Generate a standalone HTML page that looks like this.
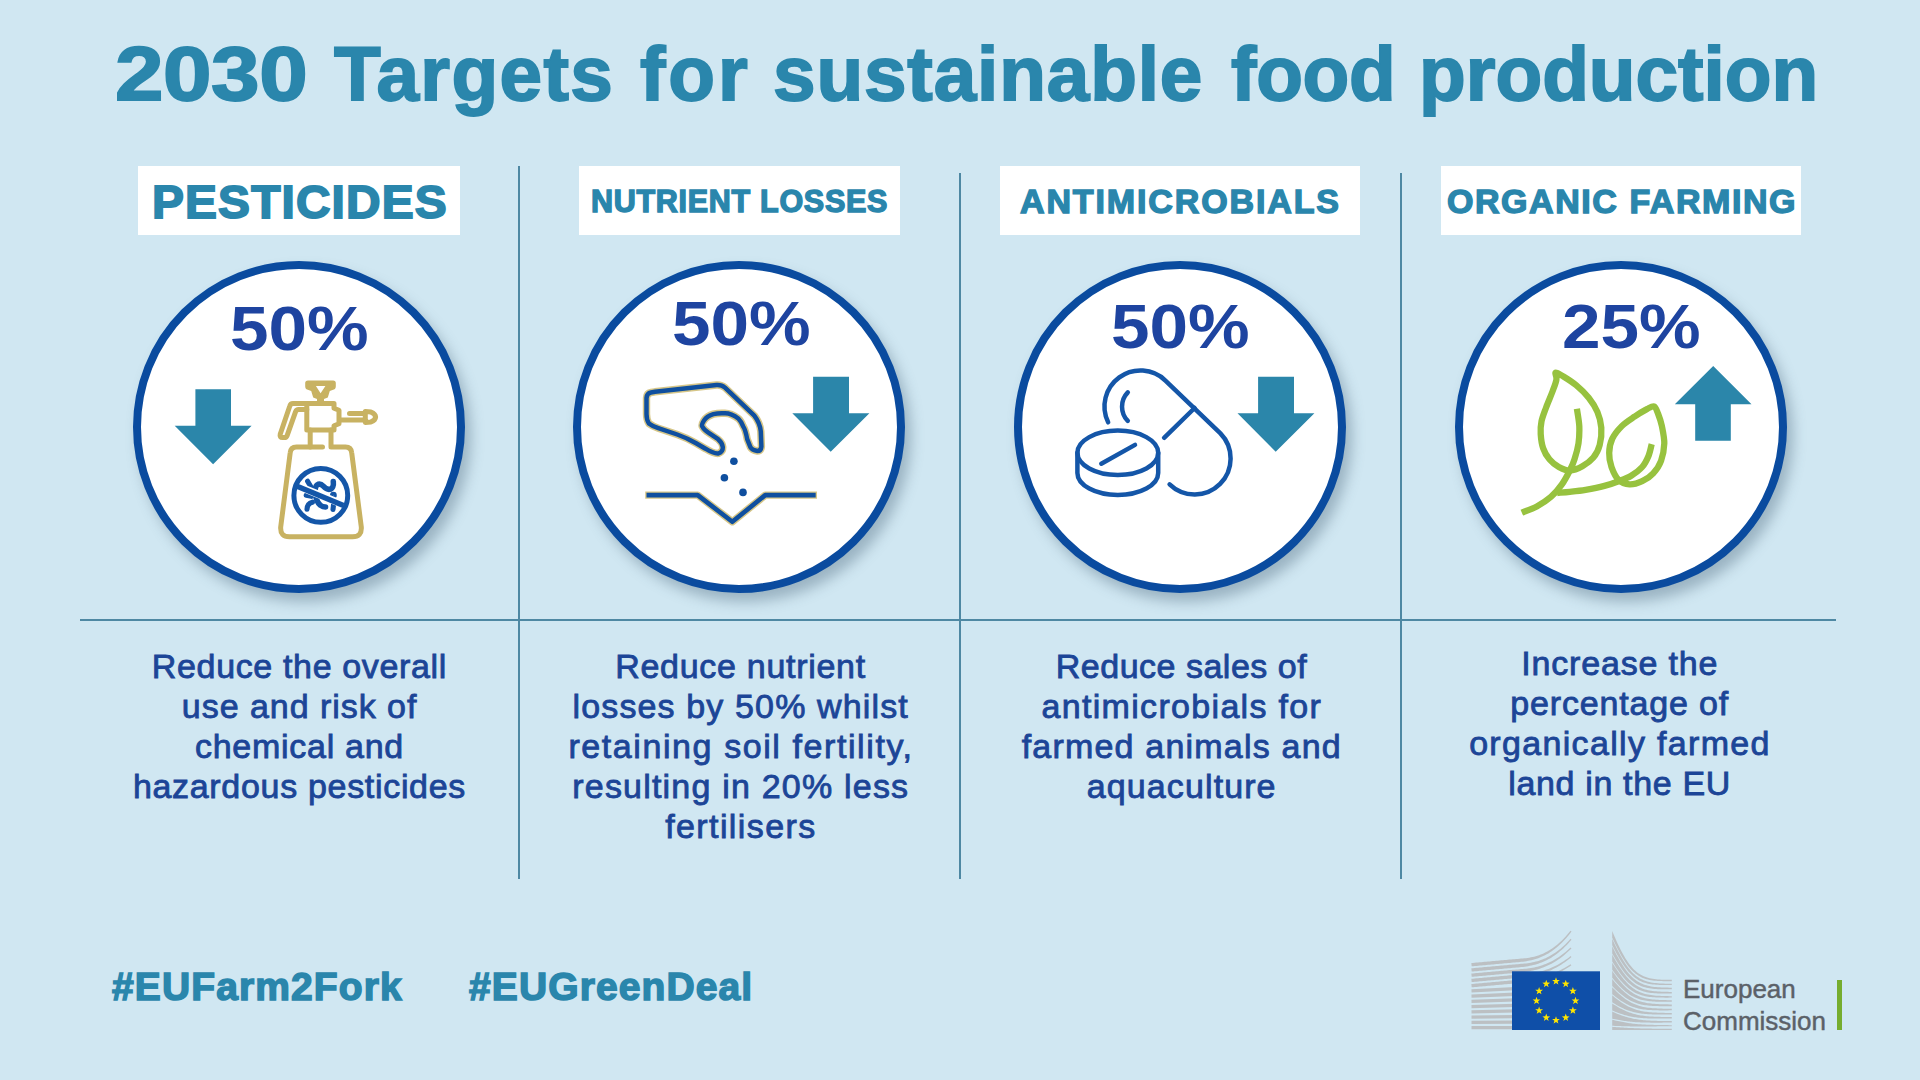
<!DOCTYPE html>
<html><head><meta charset="utf-8">
<style>
*{margin:0;padding:0;box-sizing:border-box}
html,body{width:1920px;height:1080px;overflow:hidden}
body{background:#d0e7f2;font-family:"Liberation Sans",sans-serif;position:relative}
.a{position:absolute;white-space:nowrap}
.lbl{position:absolute;background:#fff;top:166px;height:69px}
.vl{position:absolute;width:2px;background:#4e88a3}
.circ{position:absolute;width:332px;height:332px;border-radius:50%;border:8px solid #0a4b9f;background:#fff;top:261px;box-shadow:6px 9px 13px rgba(60,90,110,.36)}
.pct{position:absolute;font-weight:bold;color:#1e44a0;font-size:63px;line-height:62px;white-space:nowrap;transform:scaleX(1.10);transform-origin:0 0}
.dl{position:absolute;text-align:center;color:#1c4597;font-size:34px;line-height:40px;white-space:nowrap;width:600px;-webkit-text-stroke:0.85px #1c4597}
.ec{position:absolute;color:#5b6168;font-size:26px;line-height:31px;white-space:nowrap;-webkit-text-stroke:0.45px #5b6168}
svg{position:absolute;left:0;top:0}
.fx{position:absolute;white-space:nowrap;line-height:1.2;transform-origin:0 0}
</style></head><body>

<div class="lbl" style="left:138px;width:322px"></div>
<div class="lbl" style="left:579px;width:321px"></div>
<div class="lbl" style="left:1000px;width:360px"></div>
<div class="lbl" style="left:1441px;width:360px"></div>
<div class="fx" style="left:115.00px;top:27.80px;font-size:76.5px;font-weight:bold;color:#2a86ac;-webkit-text-stroke:1.8px #2a86ac;letter-spacing:-0.398px;transform:scaleX(1.14)">2030</div>
<div class="fx" style="left:334.00px;top:27.80px;font-size:76.5px;font-weight:bold;color:#2a86ac;-webkit-text-stroke:1.8px #2a86ac;letter-spacing:1.367px;transform:scaleX(1.0)">Targets</div>
<div class="fx" style="left:640.00px;top:27.80px;font-size:76.5px;font-weight:bold;color:#2a86ac;-webkit-text-stroke:1.8px #2a86ac;letter-spacing:2.850px;transform:scaleX(1.0)">for</div>
<div class="fx" style="left:773.00px;top:27.80px;font-size:76.5px;font-weight:bold;color:#2a86ac;-webkit-text-stroke:1.8px #2a86ac;letter-spacing:0.850px;transform:scaleX(1.0)">sustainable</div>
<div class="fx" style="left:1231.00px;top:27.80px;font-size:76.5px;font-weight:bold;color:#2a86ac;-webkit-text-stroke:1.8px #2a86ac;letter-spacing:-0.333px;transform:scaleX(1.0)">food</div>
<div class="fx" style="left:1419.00px;top:27.80px;font-size:76.5px;font-weight:bold;color:#2a86ac;-webkit-text-stroke:1.8px #2a86ac;letter-spacing:-0.022px;transform:scaleX(1.0)">production</div>
<div class="fx" style="left:152.00px;top:175.30px;font-size:46px;font-weight:bold;color:#2a86ac;-webkit-text-stroke:1.8px #2a86ac;letter-spacing:1.094px;transform:scaleX(1.04)">PESTICIDES</div>
<div class="fx" style="left:591.00px;top:182.70px;font-size:30.5px;font-weight:bold;color:#2a86ac;-webkit-text-stroke:1.4px #2a86ac;letter-spacing:0.714px;transform:scaleX(1.0)">NUTRIENT LOSSES</div>
<div class="fx" style="left:1020.00px;top:180.50px;font-size:34px;font-weight:bold;color:#2a86ac;-webkit-text-stroke:1.4px #2a86ac;letter-spacing:1.869px;transform:scaleX(1.0)">ANTIMICROBIALS</div>
<div class="fx" style="left:1447.00px;top:180.50px;font-size:34px;font-weight:bold;color:#2a86ac;-webkit-text-stroke:1.4px #2a86ac;letter-spacing:1.550px;transform:scaleX(1.0)">ORGANIC FARMING</div>
<div class="fx" style="left:112.00px;top:964.20px;font-size:39px;font-weight:bold;color:#2a86ac;-webkit-text-stroke:1.5px #2a86ac;letter-spacing:1.109px;transform:scaleX(1.0)">#EUFarm2Fork</div>
<div class="fx" style="left:469.00px;top:964.20px;font-size:39px;font-weight:bold;color:#2a86ac;-webkit-text-stroke:1.5px #2a86ac;letter-spacing:1.109px;transform:scaleX(1.0)">#EUGreenDeal</div>

<div class="vl" style="left:518px;top:166px;height:713px"></div>
<div class="vl" style="left:959px;top:173px;height:706px"></div>
<div class="vl" style="left:1400px;top:173px;height:706px"></div>
<div class="vl" style="left:80px;top:619px;width:1756px;height:2px"></div>

<div class="circ" style="left:133px"></div>
<div class="circ" style="left:573px"></div>
<div class="circ" style="left:1014px"></div>
<div class="circ" style="left:1455px"></div>

<div class="pct" style="left:230px;top:297.2px">50%</div>
<div class="pct" style="left:672.4px;top:292.2px">50%</div>
<div class="pct" style="left:1111.2px;top:294.9px">50%</div>
<div class="pct" style="left:1561.6px;top:294.5px">25%</div>

<div class="dl" style="left:-0.9px;top:646.45px;letter-spacing:0.647px;padding-left:0.647px">Reduce the overall</div>
<div class="dl" style="left:-0.9px;top:686.45px;letter-spacing:0.964px;padding-left:0.964px">use and risk of</div>
<div class="dl" style="left:-0.9px;top:726.45px;letter-spacing:0.727px;padding-left:0.727px">chemical and</div>
<div class="dl" style="left:-0.9px;top:766.45px;letter-spacing:0.684px;padding-left:0.684px">hazardous pesticides</div>
<div class="dl" style="left:440.2px;top:646.45px;letter-spacing:0.714px;padding-left:0.714px">Reduce nutrient</div>
<div class="dl" style="left:440.2px;top:686.45px;letter-spacing:1.132px;padding-left:1.132px">losses by 50% whilst</div>
<div class="dl" style="left:440.2px;top:726.45px;letter-spacing:1.583px;padding-left:1.583px">retaining soil fertility,</div>
<div class="dl" style="left:440.2px;top:766.45px;letter-spacing:1.200px;padding-left:1.200px">resulting in 20% less</div>
<div class="dl" style="left:440.2px;top:806.45px;letter-spacing:1.400px;padding-left:1.400px">fertilisers</div>
<div class="dl" style="left:881.2px;top:646.45px;letter-spacing:0.500px;padding-left:0.500px">Reduce sales of</div>
<div class="dl" style="left:881.2px;top:686.45px;letter-spacing:1.324px;padding-left:1.324px">antimicrobials for</div>
<div class="dl" style="left:881.2px;top:726.45px;letter-spacing:1.206px;padding-left:1.206px">farmed animals and</div>
<div class="dl" style="left:881.2px;top:766.45px;letter-spacing:1.100px;padding-left:1.100px">aquaculture</div>
<div class="dl" style="left:1319.3px;top:643.05px;letter-spacing:0.818px;padding-left:0.818px">Increase the</div>
<div class="dl" style="left:1319.3px;top:683.05px;letter-spacing:0.833px;padding-left:0.833px">percentage of</div>
<div class="dl" style="left:1319.3px;top:723.05px;letter-spacing:1.324px;padding-left:1.324px">organically farmed</div>
<div class="dl" style="left:1319.3px;top:763.05px;letter-spacing:0.654px;padding-left:0.654px">land in the EU</div>


<div class="ec" style="left:1683px;top:974px">European</div>
<div class="ec" style="left:1683px;top:1006px">Commission</div>
<div class="a" style="left:1837px;top:980px;width:5px;height:50px;background:#76ad2f"></div>

<svg width="1920" height="1080" viewBox="0 0 1920 1080">
<g fill="#2b86aa">
<path d="M195.4,389.3H231V425.8H251.6L213.1,464.3L174.7,425.8H195.4Z"/>
<path d="M813.1,376.7H849V413.2H869.4L830.7,451.7L792.3,413.2H813.1Z"/>
<path d="M1258.1,376.7H1294V413.2H1314.4L1275.7,451.7L1237.5,413.2H1258.1Z"/>
<path d="M1713.2,365.9L1751.5,404.2H1730.8V440.7H1695.2V404.2H1674.8Z"/>
</g>
<path fill="#c8b262" fill-rule="evenodd" d="M308,380.5H333.2Q335.8,380.5 335.8,383V386.5Q335.8,389.5 332.5,390L329.8,391L327.8,397.5L324,399V403H317V399L313.2,397.5L311.2,391L308.5,390Q305.2,389.5 305.2,386.5V383Q305.2,380.5 308,380.5ZM315.9,386H325.4L320.6,393.2Z"/>
<g fill="none" stroke="#c8b262" stroke-width="5" stroke-linejoin="round" stroke-linecap="round">
<path d="M306.8,403.5H334V408.3L339,410.3V423.8L334,425.8V430H306.8Z"/>
<path d="M306.8,403.5H293Q290.5,403.5 289.8,406L280.2,434.3Q279.4,437.6 282.6,437.6H284.3Q286.4,437.6 287.1,435.6L295.6,411.6Q296.4,409.6 298.6,409.6H306.8"/>
<path d="M349.5,413.6H364M340,419.9H364"/>
<path d="M365.3,411.6L371,412.1Q375.4,413.8 375.6,417Q375.4,420.2 371,421.9L365.3,422.4Z"/>
<path d="M310.2,430V447"/>
<path d="M322.5,447H296.5Q290.7,447 290.2,452.8L280.7,527Q280,536.8 289.5,536.8H352.5Q362,536.8 361.3,527L351.7,452.8Q351.2,447 345.5,447H331V430"/>
</g>
<g fill="none" stroke="#1456a8" stroke-linecap="round" stroke-linejoin="round">
<circle cx="320.8" cy="495.4" r="26.9" stroke-width="5"/>
<path d="M333.3,481.6C333.8,485.5 332.5,488.8 329.6,489.3C327,489.7 325,488 323.3,486.2C321.2,484 318.8,483.8 317,485C315.2,486.4 315,489.5 315.4,493.5C315.9,498.5 317.2,502.6 320.2,505.2C321.8,506.5 323.6,507 325.5,507" stroke-width="5.6"/>
<path d="M307.6,481.2L311,487M306.2,495.3L311.5,496.3M307,509.3Q307.2,503.5 312.4,502.2M333.6,504.2L333,509.5" stroke-width="5.1"/>
<circle cx="333.4" cy="495.2" r="1.8" stroke-width="3.2"/>
<path d="M300.9,487.3L340.7,503.5" stroke="#fff" stroke-width="7.6" stroke-linecap="butt"/>
<path d="M296.5,486L343.5,505.5" stroke-width="5.2" stroke-linecap="butt"/>
</g>
<g fill="none" stroke-linejoin="round">
<path d="M655,391.8L716.5,385Q721.5,384.6 725,387.6L754.3,415.6Q760,423 760.8,431.4L761.4,446.5Q761,451 757.5,451Q752,450 750.4,447.1L747.2,439.2Q745.5,430 743.3,426.6Q741,421 738.6,418.8Q731,413 724.4,413.3Q718,413 713.4,414.1Q707,416 704,420.4Q701,425 702.4,426.6Q704,430 708.7,432.9L718.1,439.2Q722.5,443 722.8,447.1Q723,452 718.5,453.4Q714,454 705.5,448.7L696.1,443.2Q687,438 677.2,434.5L658.3,428.2Q652,426 648.9,423.5Q646.5,420 646.5,414.1L646.5,398Q646.8,393.2 651,392.5Z" stroke="#d6c688" stroke-width="7.4" stroke-linecap="round"/>
<path d="M645.2,495.1H697.7L732.3,521.8L765.3,495.1H817" stroke="#d6c688" stroke-width="7.4" stroke-linecap="butt" />
<path d="M655,391.8L716.5,385Q721.5,384.6 725,387.6L754.3,415.6Q760,423 760.8,431.4L761.4,446.5Q761,451 757.5,451Q752,450 750.4,447.1L747.2,439.2Q745.5,430 743.3,426.6Q741,421 738.6,418.8Q731,413 724.4,413.3Q718,413 713.4,414.1Q707,416 704,420.4Q701,425 702.4,426.6Q704,430 708.7,432.9L718.1,439.2Q722.5,443 722.8,447.1Q723,452 718.5,453.4Q714,454 705.5,448.7L696.1,443.2Q687,438 677.2,434.5L658.3,428.2Q652,426 648.9,423.5Q646.5,420 646.5,414.1L646.5,398Q646.8,393.2 651,392.5Z" stroke="#0f4f9f" stroke-width="4.5" stroke-linecap="round"/>
<path d="M646.5,495.1H697.7L732.3,521.8L765.3,495.1H815.7" stroke="#0f4f9f" stroke-width="4.6" stroke-linecap="butt"/>
</g>
<g fill="#0f4f9f">
<circle cx="733.9" cy="461.3" r="3.8"/><circle cx="724.4" cy="477.8" r="3.8"/><circle cx="743" cy="492.4" r="3.8"/>
</g>
<g fill="none" stroke="#1456a8" stroke-width="4.5" stroke-linecap="round" stroke-linejoin="round">
<path d="M1108.14,422.28A36,36 0 0 1 1165.43,380.53L1220.43,433.33A36,36 0 0 1 1169.60,484.31"/>
<path d="M1194.6,408L1164.1,437.8"/>
<path d="M1127.8,392.4A20.5,20.5 0 0 0 1127.8,420.9"/>
<ellipse cx="1117.8" cy="452.8" rx="40.4" ry="22.2"/>
<path d="M1077.4,452.8V473A40.4,22 0 0 0 1158.2,473V452.8"/>
<path d="M1101.3,463.7L1135,444.9"/>
</g>
<g fill="none" stroke="#97c23f" stroke-width="6.3" stroke-linejoin="round">
<path d="M1555.6,372.6C1554.5,373.1 1557.0,376.5 1556.4,379.7C1555.9,382.8 1554.2,386.9 1552.5,391.5C1550.8,396.1 1548.0,402.2 1546.2,407.2C1544.4,412.2 1542.4,416.9 1541.5,421.4C1540.6,425.8 1540.4,429.5 1540.7,434.0C1541.0,438.4 1541.6,443.9 1543.1,448.1C1544.5,452.3 1546.7,456.0 1549.4,459.2C1552.0,462.3 1555.4,465.1 1558.8,467.0C1562.2,468.9 1565.9,470.6 1569.8,470.5C1573.7,470.4 1578.5,468.4 1582.4,466.2C1586.3,464.1 1590.5,461.1 1593.4,457.6C1596.3,454.1 1598.4,450.0 1599.7,445.0C1601.0,440.0 1601.7,433.2 1601.3,427.7C1600.9,422.2 1599.5,416.9 1597.4,411.9C1595.3,407.0 1592.2,402.2 1588.7,397.8C1585.2,393.3 1580.3,388.7 1576.1,385.2C1571.9,381.6 1566.9,378.6 1563.5,376.5C1560.1,374.4 1556.8,372.1 1555.6,372.6Z"/>
<path d="M1654.0,406.4C1652.2,405.7 1650.2,407.4 1646.9,409.1C1643.7,410.8 1638.5,413.8 1634.4,416.7C1630.2,419.5 1625.4,422.4 1621.8,426.1C1618.1,429.8 1614.4,434.2 1612.3,438.7C1610.2,443.2 1609.3,448.1 1609.2,452.9C1609.0,457.6 1610.0,462.5 1611.5,467.0C1613.1,471.5 1615.6,477.1 1618.6,479.9C1621.6,482.8 1625.7,484.1 1629.6,484.4C1633.6,484.6 1638.3,483.0 1642.2,481.2C1646.2,479.4 1650.1,476.7 1653.2,473.3C1656.4,469.9 1659.3,465.7 1661.1,460.7C1662.9,455.8 1664.1,449.2 1664.3,443.4C1664.4,437.7 1662.9,431.1 1661.9,426.1C1660.8,421.1 1659.3,416.8 1658.0,413.5C1656.6,410.2 1655.9,407.2 1654.0,406.4Z"/>
<path d="M1576.9,408.8C1577.3,411.7 1579.0,420.3 1579.3,426.1C1579.5,431.9 1579.3,437.9 1578.5,443.4C1577.7,448.9 1576.0,454.7 1574.5,459.2C1573.1,463.7 1571.9,466.3 1569.8,470.5C1567.7,474.7 1565.1,479.9 1561.9,484.4C1558.8,488.8 1555.1,493.3 1550.9,496.9C1546.7,500.6 1541.6,503.8 1536.8,506.4C1531.9,509.0 1524.3,511.6 1521.8,512.7"/>
<path d="M1651.7,444.2C1651.1,446.2 1650.1,452.2 1648.5,456.0C1646.9,459.8 1645.1,463.8 1642.2,467.0C1639.3,470.3 1635.1,473.3 1631.2,475.7C1627.3,478.1 1623.1,479.5 1618.6,481.2C1614.2,482.9 1610.0,484.5 1604.4,485.9C1598.9,487.4 1591.3,488.9 1585.6,489.9C1579.8,490.9 1574.5,491.4 1569.8,491.9C1565.1,492.4 1559.3,492.8 1557.2,493.0"/>
</g>
<path fill="#bcc0c3" d="M1471.65,966.34 L1473.31,966.19 L1474.96,966.04 L1476.62,965.90 L1478.28,965.75 L1479.94,965.60 L1481.60,965.45 L1483.26,965.30 L1484.91,965.15 L1486.57,965.00 L1488.23,964.85 L1489.89,964.70 L1491.55,964.55 L1493.21,964.40 L1494.86,964.25 L1496.52,964.10 L1498.18,963.96 L1499.84,963.81 L1501.50,963.66 L1503.16,963.51 L1504.81,963.36 L1506.47,963.21 L1508.13,963.06 L1509.79,962.91 L1511.45,962.76 L1513.11,962.61 L1514.76,962.46 L1516.42,962.31 L1518.08,962.16 L1519.74,962.02 L1521.40,961.84 L1523.08,961.64 L1524.76,961.41 L1526.44,961.16 L1528.12,960.87 L1529.81,960.54 L1531.50,960.17 L1533.19,959.75 L1534.88,959.28 L1536.56,958.76 L1538.25,958.18 L1539.94,957.55 L1541.62,956.85 L1543.30,956.09 L1544.98,955.26 L1546.66,954.37 L1548.33,953.40 L1550.01,952.37 L1551.68,951.26 L1553.34,950.07 L1555.01,948.81 L1556.67,947.47 L1558.33,946.05 L1559.98,944.54 L1561.64,942.95 L1563.29,941.28 L1564.94,939.51 L1566.58,937.66 L1568.23,935.71 L1569.87,933.67 L1571.51,931.55 L1570.49,930.74 L1568.81,932.82 L1567.14,934.79 L1565.47,936.66 L1563.80,938.44 L1562.13,940.13 L1560.46,941.73 L1558.80,943.24 L1557.14,944.67 L1555.48,946.00 L1553.83,947.26 L1552.17,948.43 L1550.52,949.53 L1548.88,950.54 L1547.23,951.49 L1545.59,952.36 L1543.95,953.16 L1542.31,953.90 L1540.68,954.56 L1539.05,955.17 L1537.42,955.72 L1535.79,956.21 L1534.16,956.65 L1532.53,957.03 L1530.90,957.37 L1529.27,957.67 L1527.64,957.92 L1526.01,958.13 L1524.38,958.32 L1522.74,958.47 L1521.10,958.60 L1519.44,958.73 L1517.79,958.88 L1516.13,959.03 L1514.47,959.18 L1512.81,959.33 L1511.15,959.47 L1509.49,959.62 L1507.84,959.77 L1506.18,959.92 L1504.52,960.07 L1502.86,960.22 L1501.20,960.37 L1499.54,960.52 L1497.89,960.67 L1496.23,960.82 L1494.57,960.97 L1492.91,961.12 L1491.25,961.27 L1489.59,961.41 L1487.94,961.56 L1486.28,961.71 L1484.62,961.86 L1482.96,962.01 L1481.30,962.16 L1479.64,962.31 L1477.99,962.46 L1476.33,962.61 L1474.67,962.76 L1473.01,962.91 L1471.35,963.06Z M1471.65,971.59 L1473.31,971.44 L1474.96,971.29 L1476.62,971.15 L1478.28,971.00 L1479.94,970.85 L1481.60,970.70 L1483.26,970.55 L1484.91,970.40 L1486.57,970.25 L1488.23,970.10 L1489.89,969.95 L1491.55,969.80 L1493.21,969.65 L1494.86,969.50 L1496.52,969.35 L1498.18,969.21 L1499.84,969.06 L1501.50,968.91 L1503.16,968.76 L1504.81,968.61 L1506.47,968.46 L1508.13,968.31 L1509.79,968.16 L1511.45,968.01 L1513.11,967.86 L1514.76,967.71 L1516.42,967.56 L1518.08,967.41 L1519.74,967.27 L1521.40,967.09 L1523.07,966.89 L1524.75,966.67 L1526.43,966.43 L1528.11,966.15 L1529.80,965.84 L1531.48,965.49 L1533.17,965.10 L1534.85,964.66 L1536.53,964.18 L1538.22,963.65 L1539.90,963.07 L1541.58,962.44 L1543.26,961.74 L1544.94,960.99 L1546.62,960.18 L1548.29,959.31 L1549.96,958.38 L1551.63,957.38 L1553.30,956.31 L1554.96,955.18 L1556.63,953.97 L1558.29,952.69 L1559.94,951.34 L1561.60,949.92 L1563.25,948.42 L1564.90,946.84 L1566.55,945.18 L1568.20,943.44 L1569.85,941.62 L1571.49,939.73 L1570.51,938.86 L1568.84,940.71 L1567.17,942.46 L1565.50,944.13 L1563.83,945.71 L1562.16,947.21 L1560.50,948.64 L1558.84,949.98 L1557.18,951.25 L1555.52,952.44 L1553.87,953.56 L1552.22,954.61 L1550.57,955.59 L1548.92,956.50 L1547.28,957.35 L1545.63,958.13 L1543.99,958.85 L1542.35,959.52 L1540.72,960.12 L1539.08,960.67 L1537.45,961.17 L1535.82,961.62 L1534.18,962.02 L1532.55,962.37 L1530.92,962.68 L1529.29,962.96 L1527.65,963.19 L1526.02,963.40 L1524.38,963.57 L1522.74,963.72 L1521.10,963.85 L1519.44,963.98 L1517.79,964.13 L1516.13,964.28 L1514.47,964.43 L1512.81,964.58 L1511.15,964.72 L1509.49,964.87 L1507.84,965.02 L1506.18,965.17 L1504.52,965.32 L1502.86,965.47 L1501.20,965.62 L1499.54,965.77 L1497.89,965.92 L1496.23,966.07 L1494.57,966.22 L1492.91,966.37 L1491.25,966.52 L1489.59,966.66 L1487.94,966.81 L1486.28,966.96 L1484.62,967.11 L1482.96,967.26 L1481.30,967.41 L1479.64,967.56 L1477.99,967.71 L1476.33,967.86 L1474.67,968.01 L1473.01,968.16 L1471.35,968.31Z M1471.65,976.84 L1473.31,976.69 L1474.96,976.54 L1476.62,976.40 L1478.28,976.25 L1479.94,976.10 L1481.60,975.95 L1483.26,975.80 L1484.91,975.65 L1486.57,975.50 L1488.23,975.35 L1489.89,975.20 L1491.55,975.05 L1493.21,974.90 L1494.86,974.75 L1496.52,974.60 L1498.18,974.46 L1499.84,974.31 L1501.50,974.16 L1503.16,974.01 L1504.81,973.86 L1506.47,973.71 L1508.13,973.56 L1509.79,973.41 L1511.45,973.26 L1513.11,973.11 L1514.76,972.96 L1516.42,972.81 L1518.08,972.66 L1519.74,972.52 L1521.40,972.34 L1523.07,972.14 L1524.74,971.93 L1526.42,971.69 L1528.10,971.43 L1529.78,971.14 L1531.46,970.82 L1533.14,970.46 L1534.82,970.07 L1536.50,969.64 L1538.18,969.16 L1539.86,968.64 L1541.54,968.08 L1543.21,967.47 L1544.89,966.81 L1546.56,966.10 L1548.24,965.33 L1549.91,964.52 L1551.58,963.65 L1553.25,962.72 L1554.91,961.73 L1556.57,960.69 L1558.24,959.58 L1559.89,958.41 L1561.55,957.18 L1563.21,955.89 L1564.86,954.53 L1566.51,953.10 L1568.16,951.61 L1569.81,950.04 L1571.45,948.41 L1570.55,947.48 L1568.87,949.05 L1567.20,950.54 L1565.54,951.97 L1563.87,953.32 L1562.21,954.61 L1560.55,955.82 L1558.89,956.98 L1557.23,958.06 L1555.58,959.09 L1553.92,960.05 L1552.27,960.95 L1550.62,961.80 L1548.97,962.59 L1547.33,963.32 L1545.69,964.00 L1544.04,964.62 L1542.40,965.20 L1540.76,965.73 L1539.12,966.21 L1537.49,966.65 L1535.85,967.05 L1534.22,967.41 L1532.58,967.72 L1530.94,968.01 L1529.31,968.26 L1527.67,968.47 L1526.03,968.66 L1524.39,968.83 L1522.75,968.97 L1521.10,969.10 L1519.44,969.23 L1517.79,969.38 L1516.13,969.53 L1514.47,969.68 L1512.81,969.83 L1511.15,969.97 L1509.49,970.12 L1507.84,970.27 L1506.18,970.42 L1504.52,970.57 L1502.86,970.72 L1501.20,970.87 L1499.54,971.02 L1497.89,971.17 L1496.23,971.32 L1494.57,971.47 L1492.91,971.62 L1491.25,971.77 L1489.59,971.91 L1487.94,972.06 L1486.28,972.21 L1484.62,972.36 L1482.96,972.51 L1481.30,972.66 L1479.64,972.81 L1477.99,972.96 L1476.33,973.11 L1474.67,973.26 L1473.01,973.41 L1471.35,973.56Z M1471.65,982.09 L1473.31,981.94 L1474.96,981.79 L1476.62,981.65 L1478.28,981.50 L1479.94,981.35 L1481.60,981.20 L1483.26,981.05 L1484.91,980.90 L1486.57,980.75 L1488.23,980.60 L1489.89,980.45 L1491.55,980.30 L1493.21,980.15 L1494.86,980.00 L1496.52,979.85 L1498.18,979.71 L1499.84,979.56 L1501.50,979.41 L1503.16,979.26 L1504.81,979.11 L1506.47,978.96 L1508.13,978.81 L1509.79,978.66 L1511.45,978.51 L1513.11,978.36 L1514.76,978.21 L1516.42,978.06 L1518.08,977.91 L1519.74,977.77 L1521.40,977.59 L1523.07,977.40 L1524.74,977.19 L1526.41,976.96 L1528.08,976.72 L1529.76,976.45 L1531.43,976.15 L1533.11,975.83 L1534.79,975.47 L1536.46,975.09 L1538.14,974.67 L1539.81,974.21 L1541.49,973.72 L1543.16,973.19 L1544.84,972.62 L1546.51,972.01 L1548.18,971.35 L1549.85,970.65 L1551.52,969.91 L1553.18,969.12 L1554.85,968.29 L1556.51,967.40 L1558.17,966.47 L1559.84,965.48 L1561.49,964.45 L1563.15,963.36 L1564.81,962.22 L1566.46,961.02 L1568.11,959.77 L1569.76,958.46 L1571.41,957.10 L1570.59,956.09 L1568.92,957.39 L1567.25,958.63 L1565.59,959.81 L1563.93,960.93 L1562.27,962.00 L1560.61,963.01 L1558.95,963.97 L1557.29,964.88 L1555.64,965.73 L1553.98,966.54 L1552.33,967.30 L1550.68,968.01 L1549.03,968.67 L1547.39,969.29 L1545.74,969.86 L1544.10,970.40 L1542.45,970.89 L1540.81,971.34 L1539.17,971.76 L1537.53,972.14 L1535.89,972.48 L1534.25,972.80 L1532.61,973.08 L1530.97,973.33 L1529.33,973.55 L1527.68,973.75 L1526.04,973.93 L1524.40,974.09 L1522.75,974.23 L1521.10,974.35 L1519.44,974.48 L1517.79,974.63 L1516.13,974.78 L1514.47,974.93 L1512.81,975.08 L1511.15,975.22 L1509.49,975.37 L1507.84,975.52 L1506.18,975.67 L1504.52,975.82 L1502.86,975.97 L1501.20,976.12 L1499.54,976.27 L1497.89,976.42 L1496.23,976.57 L1494.57,976.72 L1492.91,976.87 L1491.25,977.02 L1489.59,977.16 L1487.94,977.31 L1486.28,977.46 L1484.62,977.61 L1482.96,977.76 L1481.30,977.91 L1479.64,978.06 L1477.99,978.21 L1476.33,978.36 L1474.67,978.51 L1473.01,978.66 L1471.35,978.81Z M1471.65,987.34 L1473.31,987.19 L1474.96,987.04 L1476.62,986.90 L1478.28,986.75 L1479.94,986.60 L1481.60,986.45 L1483.26,986.30 L1484.91,986.15 L1486.57,986.00 L1488.23,985.85 L1489.89,985.70 L1491.55,985.55 L1493.21,985.40 L1494.86,985.25 L1496.52,985.10 L1498.18,984.96 L1499.84,984.81 L1501.50,984.66 L1503.16,984.51 L1504.81,984.36 L1506.47,984.21 L1508.13,984.06 L1509.79,983.91 L1511.45,983.76 L1513.11,983.61 L1514.76,983.46 L1516.42,983.31 L1518.08,983.16 L1519.74,983.02 L1521.40,982.84 L1523.06,982.65 L1524.73,982.45 L1526.40,982.23 L1528.07,982.00 L1529.74,981.74 L1531.41,981.47 L1533.09,981.17 L1534.76,980.85 L1536.43,980.51 L1538.10,980.13 L1539.77,979.73 L1541.45,979.30 L1543.12,978.84 L1544.79,978.35 L1546.46,977.82 L1548.13,977.26 L1549.79,976.66 L1551.46,976.03 L1553.13,975.36 L1554.79,974.65 L1556.45,973.90 L1558.12,973.11 L1559.78,972.29 L1561.44,971.42 L1563.09,970.51 L1564.75,969.55 L1566.41,968.55 L1568.06,967.51 L1569.71,966.42 L1571.36,965.29 L1570.64,964.20 L1568.97,965.27 L1567.31,966.29 L1565.64,967.27 L1563.98,968.19 L1562.32,969.08 L1560.66,969.91 L1559.01,970.71 L1557.35,971.46 L1555.70,972.18 L1554.04,972.85 L1552.39,973.48 L1550.74,974.08 L1549.09,974.63 L1547.44,975.16 L1545.79,975.64 L1544.15,976.09 L1542.50,976.51 L1540.85,976.90 L1539.21,977.26 L1537.56,977.59 L1535.92,977.89 L1534.28,978.17 L1532.63,978.42 L1530.99,978.64 L1529.34,978.85 L1527.70,979.03 L1526.05,979.19 L1524.40,979.34 L1522.75,979.48 L1521.10,979.60 L1519.44,979.73 L1517.79,979.88 L1516.13,980.03 L1514.47,980.18 L1512.81,980.33 L1511.15,980.47 L1509.49,980.62 L1507.84,980.77 L1506.18,980.92 L1504.52,981.07 L1502.86,981.22 L1501.20,981.37 L1499.54,981.52 L1497.89,981.67 L1496.23,981.82 L1494.57,981.97 L1492.91,982.12 L1491.25,982.27 L1489.59,982.41 L1487.94,982.56 L1486.28,982.71 L1484.62,982.86 L1482.96,983.01 L1481.30,983.16 L1479.64,983.31 L1477.99,983.46 L1476.33,983.61 L1474.67,983.76 L1473.01,983.91 L1471.35,984.06Z M1471.59,992.60 L1515.09,990.31 L1514.91,987.02 L1471.41,989.30Z M1471.57,997.85 L1515.07,995.89 L1514.93,992.59 L1471.43,994.55Z M1471.56,1003.10 L1515.06,1001.47 L1514.94,998.17 L1471.44,999.80Z M1471.55,1008.35 L1515.05,1007.04 L1514.95,1003.75 L1471.45,1005.05Z M1471.54,1013.60 L1515.04,1012.62 L1514.96,1009.32 L1471.46,1010.30Z M1471.52,1018.85 L1515.02,1018.20 L1514.98,1014.90 L1471.48,1015.55Z M1471.51,1024.10 L1515.01,1023.77 L1514.99,1020.47 L1471.49,1020.80Z M1471.50,1029.35 L1515.00,1029.35 L1515.00,1026.05 L1471.50,1026.05Z M1612.20,931.10 L1613.66,934.56 L1615.08,937.85 L1616.48,940.97 L1617.84,943.94 L1619.19,946.76 L1620.51,949.42 L1621.81,951.93 L1623.09,954.30 L1624.36,956.54 L1625.62,958.64 L1626.87,960.61 L1628.11,962.45 L1629.36,964.17 L1630.60,965.78 L1631.84,967.27 L1633.09,968.65 L1634.35,969.93 L1635.62,971.10 L1636.90,972.18 L1638.20,973.16 L1639.52,974.06 L1640.86,974.87 L1642.22,975.61 L1643.61,976.26 L1645.03,976.85 L1646.49,977.36 L1647.97,977.82 L1649.50,978.21 L1651.07,978.55 L1652.68,978.83 L1654.34,979.07 L1656.05,979.27 L1657.81,979.43 L1659.62,979.55 L1661.49,979.64 L1663.42,979.71 L1665.41,979.76 L1667.47,979.78 L1669.60,979.80 L1671.80,979.80 L1671.80,981.15 L1669.60,981.17 L1667.47,981.17 L1665.41,981.17 L1663.42,981.14 L1661.49,981.10 L1659.62,981.04 L1657.81,980.94 L1656.05,980.82 L1654.34,980.66 L1652.68,980.46 L1651.07,980.22 L1649.50,979.93 L1647.97,979.59 L1646.49,979.20 L1645.03,978.75 L1643.61,978.24 L1642.22,977.66 L1640.86,977.01 L1639.52,976.29 L1638.20,975.50 L1636.90,974.62 L1635.62,973.66 L1634.35,972.61 L1633.09,971.47 L1631.84,970.23 L1630.60,968.90 L1629.36,967.46 L1628.11,965.91 L1626.87,964.26 L1625.62,962.48 L1624.36,960.60 L1623.09,958.58 L1621.81,956.45 L1620.51,954.18 L1619.19,951.78 L1617.84,949.24 L1616.48,946.57 L1615.08,943.74 L1613.66,940.77 L1612.20,937.65Z M1612.20,938.75 L1613.66,941.91 L1615.08,944.92 L1616.48,947.78 L1617.84,950.49 L1619.19,953.07 L1620.51,955.51 L1621.81,957.81 L1623.09,959.98 L1624.36,962.03 L1625.62,963.96 L1626.87,965.77 L1628.11,967.46 L1629.36,969.05 L1630.60,970.52 L1631.84,971.89 L1633.09,973.17 L1634.35,974.35 L1635.62,975.43 L1636.90,976.43 L1638.20,977.35 L1639.52,978.18 L1640.86,978.94 L1642.22,979.62 L1643.61,980.24 L1645.03,980.79 L1646.49,981.27 L1647.97,981.70 L1649.50,982.08 L1651.07,982.41 L1652.68,982.68 L1654.34,982.92 L1656.05,983.12 L1657.81,983.28 L1659.62,983.41 L1661.49,983.52 L1663.42,983.59 L1665.41,983.65 L1667.47,983.70 L1669.60,983.73 L1671.80,983.75 L1671.80,985.05 L1669.60,985.07 L1667.47,985.07 L1665.41,985.07 L1663.42,985.05 L1661.49,985.01 L1659.62,984.96 L1657.81,984.87 L1656.05,984.76 L1654.34,984.61 L1652.68,984.43 L1651.07,984.21 L1649.50,983.95 L1647.97,983.64 L1646.49,983.28 L1645.03,982.87 L1643.61,982.40 L1642.22,981.88 L1640.86,981.29 L1639.52,980.63 L1638.20,979.90 L1636.90,979.10 L1635.62,978.22 L1634.35,977.26 L1633.09,976.22 L1631.84,975.08 L1630.60,973.86 L1629.36,972.54 L1628.11,971.13 L1626.87,969.61 L1625.62,967.99 L1624.36,966.26 L1623.09,964.42 L1621.81,962.46 L1620.51,960.39 L1619.19,958.19 L1617.84,955.87 L1616.48,953.42 L1615.08,950.83 L1613.66,948.11 L1612.20,945.25Z M1612.20,946.35 L1613.66,949.25 L1615.08,952.01 L1616.48,954.63 L1617.84,957.12 L1619.19,959.48 L1620.51,961.71 L1621.81,963.83 L1623.09,965.82 L1624.36,967.70 L1625.62,969.47 L1626.87,971.13 L1628.11,972.68 L1629.36,974.13 L1630.60,975.49 L1631.84,976.75 L1633.09,977.92 L1634.35,979.00 L1635.62,979.99 L1636.90,980.91 L1638.20,981.75 L1639.52,982.52 L1640.86,983.21 L1642.22,983.84 L1643.61,984.40 L1645.03,984.91 L1646.49,985.36 L1647.97,985.75 L1649.50,986.10 L1651.07,986.40 L1652.68,986.66 L1654.34,986.88 L1656.05,987.06 L1657.81,987.21 L1659.62,987.33 L1661.49,987.43 L1663.42,987.50 L1665.41,987.56 L1667.47,987.60 L1669.60,987.63 L1671.80,987.65 L1671.80,989.30 L1669.60,989.32 L1667.47,989.33 L1665.41,989.32 L1663.42,989.31 L1661.49,989.28 L1659.62,989.23 L1657.81,989.15 L1656.05,989.05 L1654.34,988.92 L1652.68,988.76 L1651.07,988.56 L1649.50,988.33 L1647.97,988.05 L1646.49,987.73 L1645.03,987.36 L1643.61,986.94 L1642.22,986.47 L1640.86,985.94 L1639.52,985.34 L1638.20,984.69 L1636.90,983.97 L1635.62,983.17 L1634.35,982.31 L1633.09,981.37 L1631.84,980.35 L1630.60,979.25 L1629.36,978.06 L1628.11,976.79 L1626.87,975.42 L1625.62,973.96 L1624.36,972.40 L1623.09,970.74 L1621.81,968.97 L1620.51,967.10 L1619.19,965.12 L1617.84,963.03 L1616.48,960.82 L1615.08,958.48 L1613.66,956.03 L1612.20,953.45Z M1612.20,954.55 L1613.66,957.17 L1615.08,959.66 L1616.48,962.03 L1617.84,964.28 L1619.19,966.41 L1620.51,968.43 L1621.81,970.34 L1623.09,972.14 L1624.36,973.84 L1625.62,975.43 L1626.87,976.93 L1628.11,978.34 L1629.36,979.65 L1630.60,980.87 L1631.84,982.01 L1633.09,983.07 L1634.35,984.05 L1635.62,984.95 L1636.90,985.78 L1638.20,986.54 L1639.52,987.23 L1640.86,987.86 L1642.22,988.43 L1643.61,988.94 L1645.03,989.40 L1646.49,989.81 L1647.97,990.16 L1649.50,990.48 L1651.07,990.75 L1652.68,990.99 L1654.34,991.19 L1656.05,991.35 L1657.81,991.49 L1659.62,991.60 L1661.49,991.69 L1663.42,991.76 L1665.41,991.81 L1667.47,991.85 L1669.60,991.88 L1671.80,991.90 L1671.80,993.55 L1669.60,993.57 L1667.47,993.58 L1665.41,993.58 L1663.42,993.57 L1661.49,993.54 L1659.62,993.50 L1657.81,993.43 L1656.05,993.34 L1654.34,993.23 L1652.68,993.09 L1651.07,992.91 L1649.50,992.71 L1647.97,992.46 L1646.49,992.17 L1645.03,991.85 L1643.61,991.47 L1642.22,991.05 L1640.86,990.57 L1639.52,990.05 L1638.20,989.46 L1636.90,988.82 L1635.62,988.11 L1634.35,987.34 L1633.09,986.50 L1631.84,985.59 L1630.60,984.61 L1629.36,983.55 L1628.11,982.41 L1626.87,981.19 L1625.62,979.88 L1624.36,978.49 L1623.09,977.00 L1621.81,975.43 L1620.51,973.76 L1619.19,971.98 L1617.84,970.11 L1616.48,968.13 L1615.08,966.05 L1613.66,963.86 L1612.20,961.55Z M1612.20,962.65 L1613.66,964.99 L1615.08,967.23 L1616.48,969.35 L1617.84,971.36 L1619.19,973.27 L1620.51,975.08 L1621.81,976.79 L1623.09,978.40 L1624.36,979.93 L1625.62,981.36 L1626.87,982.70 L1628.11,983.96 L1629.36,985.14 L1630.60,986.23 L1631.84,987.25 L1633.09,988.20 L1634.35,989.08 L1635.62,989.89 L1636.90,990.63 L1638.20,991.31 L1639.52,991.93 L1640.86,992.50 L1642.22,993.01 L1643.61,993.47 L1645.03,993.88 L1646.49,994.25 L1647.97,994.57 L1649.50,994.86 L1651.07,995.10 L1652.68,995.31 L1654.34,995.49 L1656.05,995.64 L1657.81,995.77 L1659.62,995.87 L1661.49,995.95 L1663.42,996.02 L1665.41,996.06 L1667.47,996.10 L1669.60,996.13 L1671.80,996.15 L1671.80,997.60 L1669.60,997.62 L1667.47,997.63 L1665.41,997.63 L1663.42,997.62 L1661.49,997.60 L1659.62,997.57 L1657.81,997.51 L1656.05,997.44 L1654.34,997.34 L1652.68,997.22 L1651.07,997.07 L1649.50,996.89 L1647.97,996.68 L1646.49,996.43 L1645.03,996.15 L1643.61,995.82 L1642.22,995.46 L1640.86,995.04 L1639.52,994.59 L1638.20,994.08 L1636.90,993.52 L1635.62,992.90 L1634.35,992.23 L1633.09,991.50 L1631.84,990.71 L1630.60,989.85 L1629.36,988.93 L1628.11,987.94 L1626.87,986.87 L1625.62,985.73 L1624.36,984.52 L1623.09,983.23 L1621.81,981.85 L1620.51,980.39 L1619.19,978.85 L1617.84,977.22 L1616.48,975.49 L1615.08,973.68 L1613.66,971.76 L1612.20,969.75Z M1612.20,970.85 L1613.66,972.90 L1615.08,974.85 L1616.48,976.71 L1617.84,978.47 L1619.19,980.14 L1620.51,981.72 L1621.81,983.22 L1623.09,984.63 L1624.36,985.96 L1625.62,987.21 L1626.87,988.39 L1628.11,989.49 L1629.36,990.52 L1630.60,991.48 L1631.84,992.37 L1633.09,993.20 L1634.35,993.97 L1635.62,994.68 L1636.90,995.33 L1638.20,995.93 L1639.52,996.47 L1640.86,996.97 L1642.22,997.42 L1643.61,997.82 L1645.03,998.18 L1646.49,998.51 L1647.97,998.79 L1649.50,999.04 L1651.07,999.26 L1652.68,999.44 L1654.34,999.60 L1656.05,999.74 L1657.81,999.85 L1659.62,999.94 L1661.49,1000.02 L1663.42,1000.07 L1665.41,1000.12 L1667.47,1000.15 L1669.60,1000.18 L1671.80,1000.20 L1671.80,1001.80 L1669.60,1001.82 L1667.47,1001.83 L1665.41,1001.83 L1663.42,1001.83 L1661.49,1001.82 L1659.62,1001.79 L1657.81,1001.74 L1656.05,1001.68 L1654.34,1001.60 L1652.68,1001.50 L1651.07,1001.37 L1649.50,1001.22 L1647.97,1001.04 L1646.49,1000.83 L1645.03,1000.58 L1643.61,1000.31 L1642.22,999.99 L1640.86,999.64 L1639.52,999.25 L1638.20,998.81 L1636.90,998.33 L1635.62,997.80 L1634.35,997.22 L1633.09,996.59 L1631.84,995.91 L1630.60,995.18 L1629.36,994.38 L1628.11,993.53 L1626.87,992.61 L1625.62,991.63 L1624.36,990.58 L1623.09,989.47 L1621.81,988.28 L1620.51,987.03 L1619.19,985.70 L1617.84,984.29 L1616.48,982.80 L1615.08,981.24 L1613.66,979.58 L1612.20,977.85Z M1612.20,978.95 L1613.66,980.72 L1615.08,982.41 L1616.48,984.01 L1617.84,985.54 L1619.19,986.98 L1620.51,988.35 L1621.81,989.65 L1623.09,990.87 L1624.36,992.02 L1625.62,993.10 L1626.87,994.12 L1628.11,995.08 L1629.36,995.97 L1630.60,996.80 L1631.84,997.58 L1633.09,998.29 L1634.35,998.96 L1635.62,999.58 L1636.90,1000.14 L1638.20,1000.66 L1639.52,1001.13 L1640.86,1001.56 L1642.22,1001.95 L1643.61,1002.31 L1645.03,1002.62 L1646.49,1002.90 L1647.97,1003.15 L1649.50,1003.37 L1651.07,1003.56 L1652.68,1003.72 L1654.34,1003.86 L1656.05,1003.98 L1657.81,1004.08 L1659.62,1004.16 L1661.49,1004.23 L1663.42,1004.28 L1665.41,1004.32 L1667.47,1004.35 L1669.60,1004.38 L1671.80,1004.40 L1671.80,1006.15 L1669.60,1006.17 L1667.47,1006.18 L1665.41,1006.19 L1663.42,1006.19 L1661.49,1006.18 L1659.62,1006.16 L1657.81,1006.12 L1656.05,1006.07 L1654.34,1006.01 L1652.68,1005.92 L1651.07,1005.82 L1649.50,1005.69 L1647.97,1005.54 L1646.49,1005.37 L1645.03,1005.17 L1643.61,1004.94 L1642.22,1004.67 L1640.86,1004.38 L1639.52,1004.05 L1638.20,1003.68 L1636.90,1003.28 L1635.62,1002.84 L1634.35,1002.35 L1633.09,1001.83 L1631.84,1001.25 L1630.60,1000.63 L1629.36,999.97 L1628.11,999.25 L1626.87,998.48 L1625.62,997.65 L1624.36,996.77 L1623.09,995.83 L1621.81,994.84 L1620.51,993.78 L1619.19,992.66 L1617.84,991.47 L1616.48,990.22 L1615.08,988.90 L1613.66,987.51 L1612.20,986.05Z M1612.20,987.15 L1613.66,988.65 L1615.08,990.08 L1616.48,991.43 L1617.84,992.72 L1619.19,993.95 L1620.51,995.10 L1621.81,996.20 L1623.09,997.23 L1624.36,998.21 L1625.62,999.13 L1626.87,999.99 L1628.11,1000.80 L1629.36,1001.55 L1630.60,1002.26 L1631.84,1002.92 L1633.09,1003.53 L1634.35,1004.09 L1635.62,1004.61 L1636.90,1005.09 L1638.20,1005.53 L1639.52,1005.94 L1640.86,1006.30 L1642.22,1006.64 L1643.61,1006.94 L1645.03,1007.20 L1646.49,1007.44 L1647.97,1007.66 L1649.50,1007.84 L1651.07,1008.01 L1652.68,1008.15 L1654.34,1008.27 L1656.05,1008.37 L1657.81,1008.46 L1659.62,1008.53 L1661.49,1008.59 L1663.42,1008.64 L1665.41,1008.68 L1667.47,1008.71 L1669.60,1008.73 L1671.80,1008.75 L1671.80,1010.35 L1669.60,1010.37 L1667.47,1010.38 L1665.41,1010.39 L1663.42,1010.39 L1661.49,1010.39 L1659.62,1010.38 L1657.81,1010.35 L1656.05,1010.32 L1654.34,1010.27 L1652.68,1010.20 L1651.07,1010.12 L1649.50,1010.02 L1647.97,1009.90 L1646.49,1009.76 L1645.03,1009.60 L1643.61,1009.42 L1642.22,1009.21 L1640.86,1008.97 L1639.52,1008.71 L1638.20,1008.42 L1636.90,1008.09 L1635.62,1007.73 L1634.35,1007.34 L1633.09,1006.92 L1631.84,1006.46 L1630.60,1005.96 L1629.36,1005.42 L1628.11,1004.84 L1626.87,1004.21 L1625.62,1003.55 L1624.36,1002.84 L1623.09,1002.08 L1621.81,1001.27 L1620.51,1000.41 L1619.19,999.51 L1617.84,998.54 L1616.48,997.53 L1615.08,996.46 L1613.66,995.33 L1612.20,994.15Z M1612.20,995.25 L1613.66,996.47 L1615.08,997.64 L1616.48,998.74 L1617.84,999.79 L1619.19,1000.79 L1620.51,1001.74 L1621.81,1002.63 L1623.09,1003.48 L1624.36,1004.27 L1625.62,1005.02 L1626.87,1005.73 L1628.11,1006.39 L1629.36,1007.00 L1630.60,1007.58 L1631.84,1008.12 L1633.09,1008.62 L1634.35,1009.08 L1635.62,1009.51 L1636.90,1009.90 L1638.20,1010.27 L1639.52,1010.60 L1640.86,1010.90 L1642.22,1011.17 L1643.61,1011.42 L1645.03,1011.64 L1646.49,1011.84 L1647.97,1012.02 L1649.50,1012.17 L1651.07,1012.31 L1652.68,1012.43 L1654.34,1012.53 L1656.05,1012.62 L1657.81,1012.69 L1659.62,1012.75 L1661.49,1012.80 L1663.42,1012.84 L1665.41,1012.88 L1667.47,1012.91 L1669.60,1012.93 L1671.80,1012.95 L1671.80,1014.45 L1669.60,1014.47 L1667.47,1014.48 L1665.41,1014.49 L1663.42,1014.50 L1661.49,1014.50 L1659.62,1014.50 L1657.81,1014.48 L1656.05,1014.46 L1654.34,1014.43 L1652.68,1014.38 L1651.07,1014.33 L1649.50,1014.26 L1647.97,1014.17 L1646.49,1014.07 L1645.03,1013.95 L1643.61,1013.82 L1642.22,1013.66 L1640.86,1013.49 L1639.52,1013.29 L1638.20,1013.07 L1636.90,1012.83 L1635.62,1012.57 L1634.35,1012.28 L1633.09,1011.96 L1631.84,1011.61 L1630.60,1011.24 L1629.36,1010.83 L1628.11,1010.40 L1626.87,1009.93 L1625.62,1009.43 L1624.36,1008.89 L1623.09,1008.32 L1621.81,1007.72 L1620.51,1007.07 L1619.19,1006.39 L1617.84,1005.66 L1616.48,1004.90 L1615.08,1004.09 L1613.66,1003.24 L1612.20,1002.35Z M1612.20,1003.45 L1613.66,1004.38 L1615.08,1005.27 L1616.48,1006.11 L1617.84,1006.91 L1619.19,1007.67 L1620.51,1008.40 L1621.81,1009.08 L1623.09,1009.72 L1624.36,1010.33 L1625.62,1010.90 L1626.87,1011.44 L1628.11,1011.95 L1629.36,1012.42 L1630.60,1012.86 L1631.84,1013.27 L1633.09,1013.66 L1634.35,1014.01 L1635.62,1014.34 L1636.90,1014.65 L1638.20,1014.92 L1639.52,1015.18 L1640.86,1015.41 L1642.22,1015.62 L1643.61,1015.82 L1645.03,1015.99 L1646.49,1016.14 L1647.97,1016.28 L1649.50,1016.41 L1651.07,1016.51 L1652.68,1016.61 L1654.34,1016.69 L1656.05,1016.76 L1657.81,1016.82 L1659.62,1016.87 L1661.49,1016.92 L1663.42,1016.95 L1665.41,1016.98 L1667.47,1017.01 L1669.60,1017.03 L1671.80,1017.05 L1671.80,1018.50 L1669.60,1018.52 L1667.47,1018.53 L1665.41,1018.55 L1663.42,1018.56 L1661.49,1018.57 L1659.62,1018.57 L1657.81,1018.56 L1656.05,1018.55 L1654.34,1018.54 L1652.68,1018.51 L1651.07,1018.48 L1649.50,1018.44 L1647.97,1018.39 L1646.49,1018.32 L1645.03,1018.25 L1643.61,1018.16 L1642.22,1018.06 L1640.86,1017.95 L1639.52,1017.82 L1638.20,1017.68 L1636.90,1017.52 L1635.62,1017.34 L1634.35,1017.15 L1633.09,1016.94 L1631.84,1016.70 L1630.60,1016.45 L1629.36,1016.18 L1628.11,1015.89 L1626.87,1015.58 L1625.62,1015.24 L1624.36,1014.88 L1623.09,1014.49 L1621.81,1014.08 L1620.51,1013.65 L1619.19,1013.19 L1617.84,1012.70 L1616.48,1012.18 L1615.08,1011.63 L1613.66,1011.06 L1612.20,1010.45Z M1612.20,1011.55 L1613.66,1012.19 L1615.08,1012.81 L1616.48,1013.39 L1617.84,1013.95 L1619.19,1014.47 L1620.51,1014.97 L1621.81,1015.45 L1623.09,1015.89 L1624.36,1016.32 L1625.62,1016.71 L1626.87,1017.09 L1628.11,1017.44 L1629.36,1017.77 L1630.60,1018.08 L1631.84,1018.37 L1633.09,1018.64 L1634.35,1018.88 L1635.62,1019.12 L1636.90,1019.33 L1638.20,1019.53 L1639.52,1019.71 L1640.86,1019.87 L1642.22,1020.02 L1643.61,1020.16 L1645.03,1020.29 L1646.49,1020.40 L1647.97,1020.50 L1649.50,1020.59 L1651.07,1020.67 L1652.68,1020.74 L1654.34,1020.80 L1656.05,1020.85 L1657.81,1020.90 L1659.62,1020.94 L1661.49,1020.98 L1663.42,1021.01 L1665.41,1021.04 L1667.47,1021.06 L1669.60,1021.08 L1671.80,1021.10 L1671.80,1022.55 L1669.60,1022.57 L1667.47,1022.59 L1665.41,1022.60 L1663.42,1022.62 L1661.49,1022.63 L1659.62,1022.64 L1657.81,1022.65 L1656.05,1022.65 L1654.34,1022.65 L1652.68,1022.65 L1651.07,1022.64 L1649.50,1022.62 L1647.97,1022.60 L1646.49,1022.58 L1645.03,1022.55 L1643.61,1022.51 L1642.22,1022.47 L1640.86,1022.42 L1639.52,1022.36 L1638.20,1022.29 L1636.90,1022.22 L1635.62,1022.13 L1634.35,1022.04 L1633.09,1021.94 L1631.84,1021.82 L1630.60,1021.70 L1629.36,1021.56 L1628.11,1021.42 L1626.87,1021.26 L1625.62,1021.09 L1624.36,1020.91 L1623.09,1020.72 L1621.81,1020.51 L1620.51,1020.29 L1619.19,1020.05 L1617.84,1019.80 L1616.48,1019.54 L1615.08,1019.26 L1613.66,1018.96 L1612.20,1018.65Z M1612.20,1019.75 L1613.66,1020.10 L1615.08,1020.43 L1616.48,1020.75 L1617.84,1021.05 L1619.19,1021.34 L1620.51,1021.61 L1621.81,1021.87 L1623.09,1022.12 L1624.36,1022.35 L1625.62,1022.57 L1626.87,1022.77 L1628.11,1022.97 L1629.36,1023.15 L1630.60,1023.32 L1631.84,1023.48 L1633.09,1023.64 L1634.35,1023.78 L1635.62,1023.91 L1636.90,1024.03 L1638.20,1024.14 L1639.52,1024.25 L1640.86,1024.34 L1642.22,1024.43 L1643.61,1024.51 L1645.03,1024.59 L1646.49,1024.65 L1647.97,1024.72 L1649.50,1024.77 L1651.07,1024.82 L1652.68,1024.87 L1654.34,1024.91 L1656.05,1024.95 L1657.81,1024.98 L1659.62,1025.01 L1661.49,1025.04 L1663.42,1025.07 L1665.41,1025.09 L1667.47,1025.11 L1669.60,1025.13 L1671.80,1025.15 L1671.80,1026.25 L1669.60,1026.27 L1667.47,1026.29 L1665.41,1026.31 L1663.42,1026.32 L1661.49,1026.34 L1659.62,1026.36 L1657.81,1026.37 L1656.05,1026.39 L1654.34,1026.40 L1652.68,1026.41 L1651.07,1026.42 L1649.50,1026.43 L1647.97,1026.44 L1646.49,1026.45 L1645.03,1026.46 L1643.61,1026.46 L1642.22,1026.46 L1640.86,1026.46 L1639.52,1026.46 L1638.20,1026.45 L1636.90,1026.45 L1635.62,1026.44 L1634.35,1026.43 L1633.09,1026.41 L1631.84,1026.40 L1630.60,1026.38 L1629.36,1026.36 L1628.11,1026.33 L1626.87,1026.30 L1625.62,1026.27 L1624.36,1026.23 L1623.09,1026.20 L1621.81,1026.15 L1620.51,1026.11 L1619.19,1026.06 L1617.84,1026.00 L1616.48,1025.95 L1615.08,1025.89 L1613.66,1025.82 L1612.20,1025.75Z M1612.20,1026.85 L1613.66,1026.96 L1615.08,1027.06 L1616.48,1027.16 L1617.84,1027.25 L1619.19,1027.35 L1620.51,1027.43 L1621.81,1027.52 L1623.09,1027.60 L1624.36,1027.67 L1625.62,1027.74 L1626.87,1027.81 L1628.11,1027.88 L1629.36,1027.94 L1630.60,1028.00 L1631.84,1028.06 L1633.09,1028.11 L1634.35,1028.17 L1635.62,1028.21 L1636.90,1028.26 L1638.20,1028.30 L1639.52,1028.35 L1640.86,1028.39 L1642.22,1028.42 L1643.61,1028.46 L1645.03,1028.49 L1646.49,1028.52 L1647.97,1028.56 L1649.50,1028.58 L1651.07,1028.61 L1652.68,1028.64 L1654.34,1028.66 L1656.05,1028.69 L1657.81,1028.71 L1659.62,1028.73 L1661.49,1028.75 L1663.42,1028.77 L1665.41,1028.79 L1667.47,1028.81 L1669.60,1028.83 L1671.80,1028.85 L1671.80,1030.00 L1670.31,1030.00 L1668.82,1030.00 L1667.33,1030.00 L1665.84,1030.00 L1664.35,1030.00 L1662.86,1030.00 L1661.37,1030.00 L1659.88,1030.00 L1658.39,1030.00 L1656.90,1030.00 L1655.41,1030.00 L1653.92,1030.00 L1652.43,1030.00 L1650.94,1030.00 L1649.45,1030.00 L1647.96,1030.00 L1646.47,1030.00 L1644.98,1030.00 L1643.49,1030.00 L1642.00,1030.00 L1640.51,1030.00 L1639.02,1030.00 L1637.53,1030.00 L1636.04,1030.00 L1634.55,1030.00 L1633.06,1030.00 L1631.57,1030.00 L1630.08,1030.00 L1628.59,1030.00 L1627.10,1030.00 L1625.61,1030.00 L1624.12,1030.00 L1622.63,1030.00 L1621.14,1030.00 L1619.65,1030.00 L1618.16,1030.00 L1616.67,1030.00 L1615.18,1030.00 L1613.69,1030.00 L1612.20,1030.00Z"/>
<rect x="1512" y="971.3" width="88" height="58.7" fill="#0f4fa8"/>
<path d="M1556.00,977.20 L1556.97,979.97 L1559.90,980.03 L1557.57,981.81 L1558.41,984.62 L1556.00,982.95 L1553.59,984.62 L1554.43,981.81 L1552.10,980.03 L1555.03,979.97Z M1565.75,979.81 L1566.72,982.58 L1569.65,982.65 L1567.32,984.42 L1568.16,987.23 L1565.75,985.56 L1563.34,987.23 L1564.18,984.42 L1561.85,982.65 L1564.78,982.58Z M1572.89,986.95 L1573.86,989.72 L1576.79,989.78 L1574.46,991.56 L1575.30,994.37 L1572.89,992.70 L1570.48,994.37 L1571.32,991.56 L1568.99,989.78 L1571.92,989.72Z M1575.50,996.70 L1576.47,999.47 L1579.40,999.53 L1577.07,1001.31 L1577.91,1004.12 L1575.50,1002.45 L1573.09,1004.12 L1573.93,1001.31 L1571.60,999.53 L1574.53,999.47Z M1572.89,1006.45 L1573.86,1009.22 L1576.79,1009.28 L1574.46,1011.06 L1575.30,1013.87 L1572.89,1012.20 L1570.48,1013.87 L1571.32,1011.06 L1568.99,1009.28 L1571.92,1009.22Z M1565.75,1013.59 L1566.72,1016.35 L1569.65,1016.42 L1567.32,1018.20 L1568.16,1021.00 L1565.75,1019.34 L1563.34,1021.00 L1564.18,1018.20 L1561.85,1016.42 L1564.78,1016.35Z M1556.00,1016.20 L1556.97,1018.97 L1559.90,1019.03 L1557.57,1020.81 L1558.41,1023.62 L1556.00,1021.95 L1553.59,1023.62 L1554.43,1020.81 L1552.10,1019.03 L1555.03,1018.97Z M1546.25,1013.59 L1547.22,1016.35 L1550.15,1016.42 L1547.82,1018.20 L1548.66,1021.00 L1546.25,1019.34 L1543.84,1021.00 L1544.68,1018.20 L1542.35,1016.42 L1545.28,1016.35Z M1539.11,1006.45 L1540.08,1009.22 L1543.01,1009.28 L1540.68,1011.06 L1541.52,1013.87 L1539.11,1012.20 L1536.70,1013.87 L1537.54,1011.06 L1535.21,1009.28 L1538.14,1009.22Z M1536.50,996.70 L1537.47,999.47 L1540.40,999.53 L1538.07,1001.31 L1538.91,1004.12 L1536.50,1002.45 L1534.09,1004.12 L1534.93,1001.31 L1532.60,999.53 L1535.53,999.47Z M1539.11,986.95 L1540.08,989.72 L1543.01,989.78 L1540.68,991.56 L1541.52,994.37 L1539.11,992.70 L1536.70,994.37 L1537.54,991.56 L1535.21,989.78 L1538.14,989.72Z M1546.25,979.81 L1547.22,982.58 L1550.15,982.65 L1547.82,984.42 L1548.66,987.23 L1546.25,985.56 L1543.84,987.23 L1544.68,984.42 L1542.35,982.65 L1545.28,982.58Z" fill="#ffe500"/>
</svg>
</body></html>
